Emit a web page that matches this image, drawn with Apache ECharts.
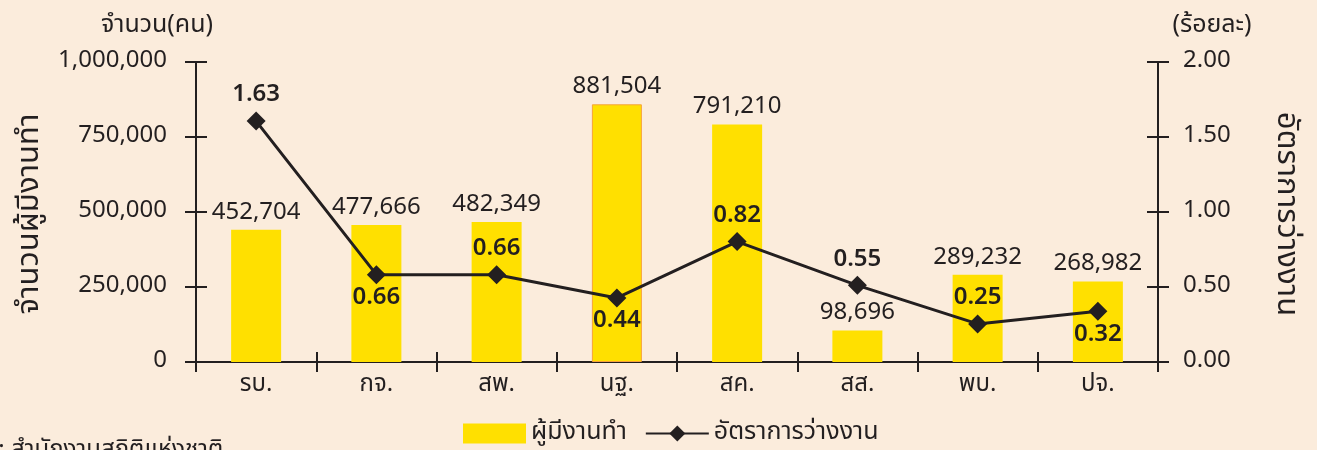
<!DOCTYPE html>
<html>
<head>
<meta charset="utf-8">
<script src="https://cdn.jsdelivr.net/npm/echarts@6/dist/echarts.min.js"></script>
<style>
html,body{margin:0;padding:0;background:#FBECDC;}
#chart{width:1317px;height:450px;}
</style>
</head>
<body>
<div id="chart"></div>
<script>
// ---- data ----
const categories = ['รบ.', 'กจ.', 'สพ.', 'นฐ.', 'สค.', 'สส.', 'พบ.', 'ปจ.'];
// bar heights as drawn in the picture (persons)
const employed = [440500, 457000, 467000, 859000, 792000, 105000, 291000, 268000];
// value labels printed on the bars
const employedLabels = ['452,704', '477,666', '482,349', '881,504', '791,210', '98,696', '289,232', '268,982'];
// unemployment rate points as drawn (percent)
const unemploymentRate = [1.606, 0.582, 0.582, 0.427, 0.803, 0.511, 0.254, 0.338];
// value labels printed at the points
const unemploymentLabels = ['1.63', '0.66', '0.66', '0.44', '0.82', '0.55', '0.25', '0.32'];
const leftTicks = { min: 0, max: 1000000, interval: 250000 };
const rightTicks = { min: 0, max: 2, interval: 0.5 };
const seriesNames = ['ผู้มีงานทำ', 'อัตราการว่างงาน'];
const leftAxisTitle = 'จำนวน(คน)';
const rightAxisTitle = '(ร้อยละ)';
const leftAxisName = 'จำนวนผู้มีงานทำ';
const rightAxisName = 'อัตราการว่างงาน';
const sourceNote = 'ที่มา : สำนักงานสถิติแห่งชาติ';

// ---- chart ----
const FONT = "'Noto Sans Thai', 'Noto Sans', 'DejaVu Sans', sans-serif";
const INK = '#231F20';
const rateLabelPos = ['top', 'bottom', 'top', 'bottom', 'top', 'top', 'top', 'bottom'];

const chart = echarts.init(document.getElementById('chart'));

function yAx(pos, ticks, inside, showLabel, fmt, margin) {
  return {
    type: 'value', position: pos, min: ticks.min, max: ticks.max, interval: ticks.interval,
    splitLine: { show: false },
    axisLine: { show: true, lineStyle: { color: INK, width: 2 } },
    axisTick: { show: true, inside: inside, length: 11, lineStyle: { color: INK, width: 2 } },
    axisLabel: { show: showLabel, formatter: fmt, margin: margin, color: INK, fontSize: 24, fontFamily: FONT }
  };
}
function xAx(inside, showLabel) {
  return {
    type: 'category', position: 'bottom', data: categories,
    axisLine: { show: true, lineStyle: { color: INK, width: 2 } },
    axisTick: { show: true, inside: inside, length: 10, lineStyle: { color: INK, width: 2 } },
    axisLabel: { show: showLabel, margin: 12, color: INK, fontSize: 24, fontFamily: FONT }
  };
}

const option = {
  backgroundColor: '#FBECDC',
  animation: false,
  textStyle: { fontFamily: FONT },
  grid: { left: 196, right: 159, top: 62, bottom: 88 },
  xAxis: [xAx(false, true), xAx(true, false)],
  yAxis: [
    yAx('left', leftTicks, false, true, v => v.toLocaleString('en-US'), 29),
    yAx('right', rightTicks, false, true, v => v.toFixed(2), 25),
    yAx('left', leftTicks, true, false, null, 0),
    yAx('right', rightTicks, true, false, null, 0)
  ],
  legend: {
    left: 458, top: 416, itemGap: 18,
    itemWidth: 63, itemHeight: 20,
    textStyle: { color: INK, fontSize: 25, fontFamily: FONT },
    data: [
      { name: seriesNames[0], icon: 'rect' },
      { name: seriesNames[1] }
    ]
  },
  series: [
    {
      name: seriesNames[0], type: 'bar', xAxisIndex: 0, yAxisIndex: 0,
      barWidth: 50,
      itemStyle: { color: '#FFE000' },
      data: employed.map((v, i) => i === 3
        ? { value: v, itemStyle: { borderColor: '#F6A33A', borderWidth: 1 } }
        : v),
      label: {
        show: true, position: 'top', distance: 4, color: INK, fontSize: 24, fontFamily: FONT,
        formatter: p => employedLabels[p.dataIndex]
      },
      z: 2
    },
    {
      name: seriesNames[1], type: 'line', xAxisIndex: 0, yAxisIndex: 1,
      symbol: 'diamond', symbolSize: 19,
      lineStyle: { color: INK, width: 3 },
      itemStyle: { color: INK },
      data: unemploymentRate.map((v, i) => ({ value: v, label: { position: rateLabelPos[i] } })),
      label: {
        show: true, distance: 3, color: INK, fontSize: 24, fontWeight: 600, fontFamily: FONT,
        formatter: p => unemploymentLabels[p.dataIndex]
      },
      z: 5
    }
  ],
  graphic: [
    { type: 'text', x: 157, y: 27, style: { text: leftAxisTitle, align: 'center', verticalAlign: 'middle', fill: INK, fontSize: 25, fontFamily: FONT } },
    { type: 'text', x: 1212, y: 27, style: { text: rightAxisTitle, align: 'center', verticalAlign: 'middle', fill: INK, fontSize: 25, fontFamily: FONT } },
    { type: 'text', x: 32, y: 214, rotation: Math.PI / 2, style: { text: leftAxisName, align: 'center', verticalAlign: 'middle', fill: INK, fontSize: 31, fontFamily: FONT } },
    { type: 'text', x: 1284, y: 214, rotation: -Math.PI / 2, style: { text: rightAxisName, align: 'center', verticalAlign: 'middle', fill: INK, fontSize: 31, fontFamily: FONT } },
    { type: 'text', x: -47, y: 440, style: { text: sourceNote, align: 'left', verticalAlign: 'top', fill: INK, fontSize: 24, fontFamily: FONT } }
  ]
};
chart.setOption(option);
</script>
</body>
</html>
